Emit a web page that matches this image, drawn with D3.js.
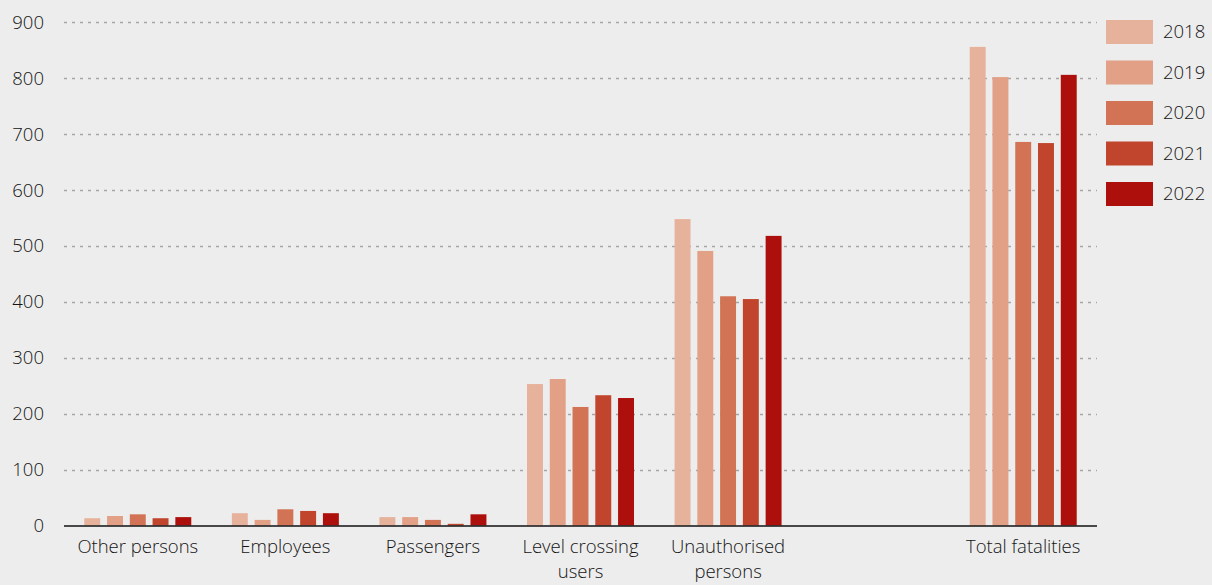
<!DOCTYPE html>
<html><head><meta charset="utf-8">
<script src="https://cdn.jsdelivr.net/npm/d3@7"></script>
<style>
html,body{margin:0;padding:0;background:#ededed;}
svg{display:block;font-family:"Open Sans","Noto Sans",sans-serif;}
</style></head>
<body>
<svg id="chart" width="1212" height="585"></svg>
<script>
const categories = ["Other persons", "Employees", "Passengers", "Level crossing\nusers", "Unauthorised\npersons", "", "Total fatalities"];
const years = ["2018", "2019", "2020", "2021", "2022"];
const v2018 = [13, 22, 15, 253, 548, null, 856];
const v2019 = [17, 10, 15, 262, 491, null, 802];
const v2020 = [20, 29, 10, 212, 410, null, 686];
const v2021 = [13, 26, 3, 233, 405, null, 684];
const v2022 = [15, 22, 20, 228, 518, null, 806];
const yTicks = [0, 100, 200, 300, 400, 500, 600, 700, 800, 900];
const colors = ["#e7b29b", "#e2a087", "#d27356", "#c0452c", "#ad100c"];
const seriesValues = [v2018, v2019, v2020, v2021, v2022];

const svg = d3.select("#chart");
const x0 = d3.scaleBand().domain(categories.map((c, i) => i)).range([64, 1097]).padding(0);
const x1 = d3.scaleBand().domain(years).range([0, 107]).paddingInner(0.3).paddingOuter(0);
const y = d3.scaleLinear().domain([0, 900]).range([525.5, 22.3]);
const color = d3.scaleOrdinal().domain(years).range(colors);
const textFill = "#141414", fs = 18.5, fw = 300;

// gridlines
svg.append("g").selectAll("line").data(yTicks.filter(t => t > 0)).join("line")
  .attr("x1", 64).attr("x2", 1097)
  .attr("y1", d => Math.round(y(d)) + 0.5).attr("y2", d => Math.round(y(d)) + 0.5)
  .attr("stroke", "#a6a6a6").attr("stroke-width", 1.3).attr("stroke-dasharray", "3,5");

// y tick labels
svg.append("g").selectAll("text").data(yTicks).join("text")
  .attr("x", 44).attr("y", d => y(d)).attr("dy", "0.35em")
  .attr("text-anchor", "end").attr("fill", textFill).attr("font-size", fs).attr("font-weight", fw)
  .text(d => d);

// bars
const groups = svg.append("g").selectAll("g").data(categories.map((c, i) => i)).join("g")
  .attr("transform", i => `translate(${x0(i) + x0.bandwidth() / 2 - 53.5},0)`);
groups.selectAll("rect")
  .data(i => years.map((yr, k) => ({ yr, v: seriesValues[k][i] })).filter(d => d.v != null))
  .join("rect")
  .attr("x", d => x1(d.yr)).attr("width", x1.bandwidth())
  .attr("y", d => y(d.v)).attr("height", d => y(0) - y(d.v))
  .attr("fill", d => color(d.yr));

// x axis line
svg.append("line").attr("x1", 64).attr("x2", 1097).attr("y1", 526).attr("y2", 526)
  .attr("stroke", "#111").attr("stroke-width", 1.6);

// category labels
const lab = svg.append("g").selectAll("text").data(categories.map((c, i) => i)).join("text")
  .attr("x", i => x0(i) + x0.bandwidth() / 2)
  .attr("y", 553)
  .attr("text-anchor", "middle").attr("fill", textFill).attr("font-size", fs).attr("font-weight", fw);
lab.each(function (i) {
  const lines = categories[i].split("\n");
  d3.select(this).selectAll("tspan").data(lines).join("tspan")
    .attr("x", x0(i) + x0.bandwidth() / 2)
    .attr("dy", (d, k) => k === 0 ? 0 : 25)
    .text(d => d);
});

// legend
const leg = svg.append("g").selectAll("g").data(years).join("g")
  .attr("transform", (d, k) => `translate(1106,${20 + k * 40.5})`);
leg.append("rect").attr("width", 47).attr("height", 24).attr("fill", d => color(d));
leg.append("text").attr("x", 57).attr("y", 12).attr("dy", "0.35em")
  .attr("fill", textFill).attr("font-size", fs).attr("font-weight", fw).text(d => d);
</script>
</body></html>
